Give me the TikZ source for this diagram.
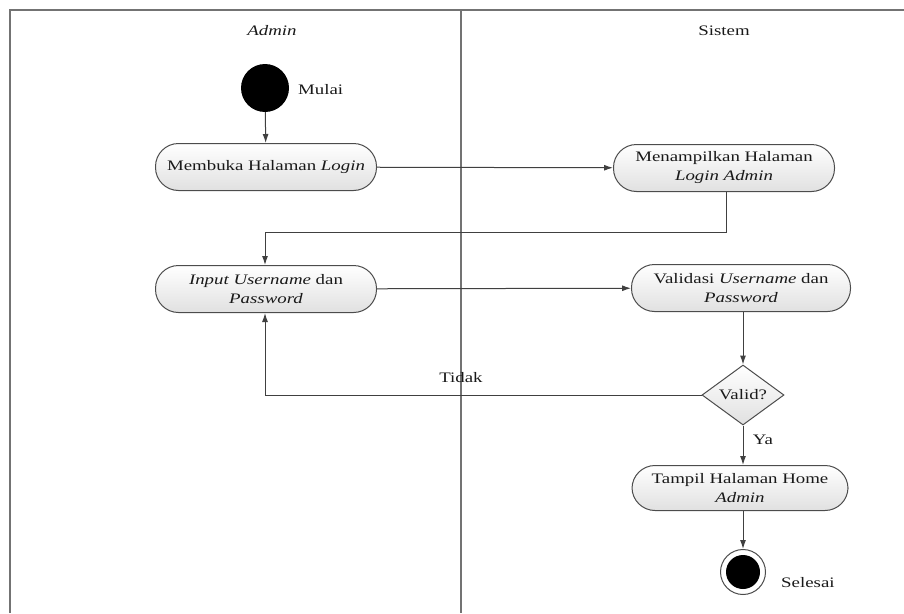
\documentclass[tikz,border=0pt]{standalone}
\usepackage{fontspec}
\setmainfont[FakeStretch=1.3]{Liberation Serif}
\usetikzlibrary{arrows.meta,shapes.geometric}
\begin{document}
\begin{tikzpicture}[x=1pt,y=-1pt,
  every node/.style={font=\fontsize{14.5}{19}\selectfont, text=black!90},
  act/.style={draw=black!70, line width=1pt, rounded corners=23pt, top color=white, bottom color=black!12,
    minimum width=221pt, minimum height=47pt, align=center, inner sep=2pt},
  conn/.style={draw=black!75, line width=1pt, -{Latex[length=9pt,width=6pt]}},
  frame/.style={draw=black!55, line width=2pt},
  lbl/.style={inner sep=1pt}
]
\useasboundingbox (0,0) rectangle (904,613);
% swimlane frame
\draw[frame] (10,613) -- (10,10) -- (906,10);
\draw[frame] (461,10) -- (461,613);
\node[lbl] (hA) at (272,31) {\textit{Admin}};
\node[lbl] (hS) at (724,31) {Sistem};
% start
\node[circle, fill=black, minimum size=48pt, inner sep=0pt] (start) at (265,88) {};
\node[lbl, anchor=west] (mulai) at (297,90) {Mulai};
% activities
\node[act] (b1) at (266,167) {Membuka Halaman \textit{Login}};
\node[act] (b2) at (724,168) {Menampilkan Halaman\\\textit{Login Admin}};
\node[act] (b3) at (266,289) {\textit{Input Username} dan\\\textit{Password}};
\node[act, minimum width=219pt] (b4) at (741,288) {Validasi \textit{Username} dan\\\textit{Password}};
\node[diamond, draw=black!70, line width=1pt, top color=white, bottom color=black!12,
  minimum width=82pt, minimum height=60pt, inner sep=0pt, aspect=1.37] (d) at (743,395) {Valid?};
\node[act, minimum width=216pt, minimum height=45pt] (b5) at (740,488) {Tampil Halaman Home\\\textit{Admin}};
% end
\node[circle, draw=black!70, line width=1pt, fill=white, minimum size=45pt, inner sep=0pt] (endo) at (743,572) {};
\node[circle, fill=black, minimum size=34pt, inner sep=0pt] (endi) at (endo) {};
\node[lbl, anchor=west] (selesai) at (780,583) {Selesai};
% connectors
\draw[conn] (start) -- (b1);
\draw[conn] (b1) -- (b2);
\coordinate (c1) at (726,232);
\coordinate (c2) at (265,232);
\draw[conn] (b2.south -| c1) -- (c1) -- (c2) -- (c2 |- b3.north);
\draw[conn] (b3) -- (b4);
\draw[conn] (b4.south -| d.north) -- (d.north);
\coordinate (c3) at (265,395);
\draw[conn] (d.west) -- (c3) -- (c3 |- b3.south);
\node[lbl] (tidak) at (461,378) {Tidak};
\draw[conn] (d.south) -- (b5.north -| d.south);
\node[lbl] (ya) at (763,440) {Ya};
\draw[conn] (b5.south -| endo.north) -- (endo.north);
\end{tikzpicture}
\end{document}
